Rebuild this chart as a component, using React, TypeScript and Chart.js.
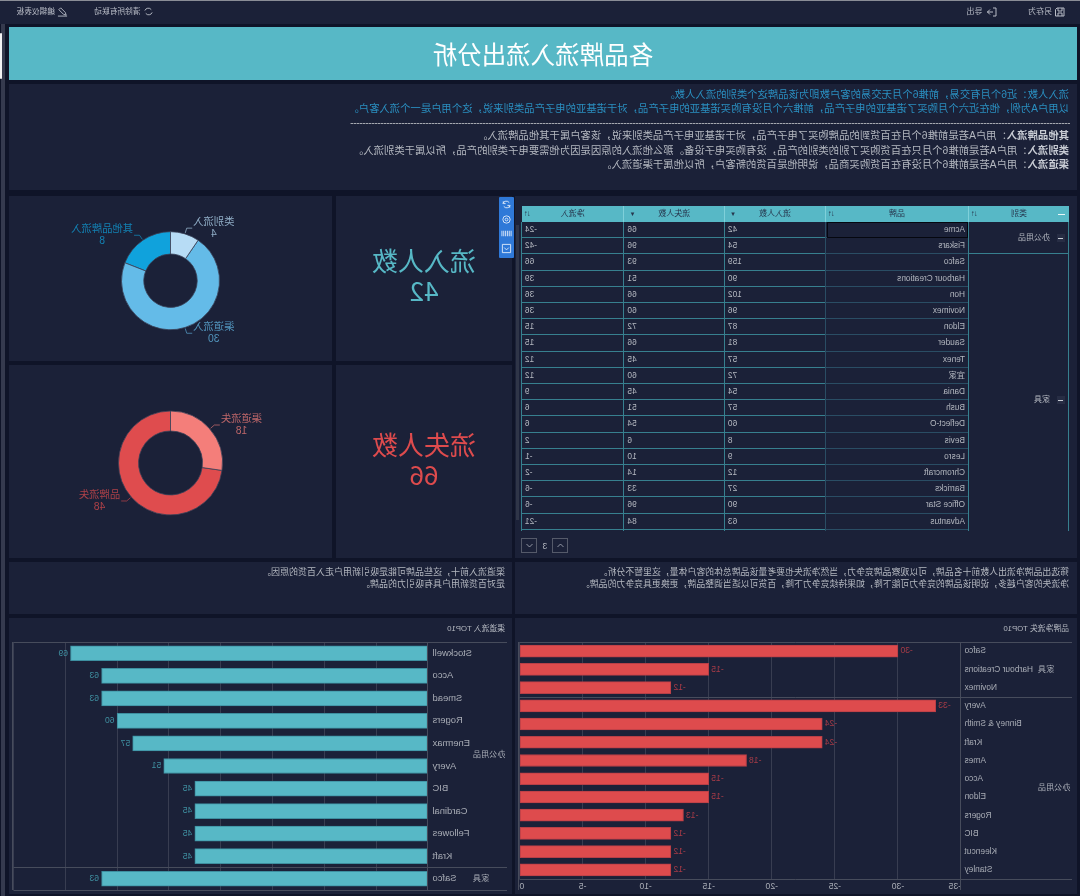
import React, { useEffect, useRef } from "react";
import { Chart, registerables } from "chart.js";

Chart.register(...registerables);

const FONT = '"Liberation Sans","Noto Sans CJK SC",sans-serif';
const PANEL = "#1b2138";
const TEAL = "#57b8c6";
const RED = "#de4b4d";

const titleText = "各品牌流入流出分析";
const toolbarRight = ["另存为", "导出"];
const toolbarLeft = ["清除所有联动", "编辑仪表板"];
const introBlue = [
  "流入人数：近6个月有交易，前推6个月无交易的客户数即为该品牌这个类别的流入人数。",
  "以用户A为例，他在近六个月购买了诺基亚的电子产品，前推六个月没有购买诺基亚的电子产品，对于诺基亚的电子产品类别来说，这个用户是一个流入客户。",
];
const introBold = ["其他品牌流入", "类别流入", "渠道流入"];
const introRest = [
  "：用户A若是前推6个月在百货到的品牌购买了电子产品，对于诺基亚电子产品类别来说，该客户属于其他品牌流入。",
  "：用户A若是前推6个月只在百货购买了别的类别的产品，没有购买电子设备。那么他流入的原因是因为他需要电子类别的产品，所以属于类别流入。",
  "：用户A若是前推6个月没有在百货购买商品，说明他是百货的新客户，所以他属于渠道流入。",
];
const noteOutflow = [
  "筛选出品牌净流出人数前十名品牌，可以观察品牌竞争力，当然净流失也要考量该品牌总体的客户体量，这里暂不分析。",
  "净流失的客户越多，说明该品牌的竞争力可能下降，如果持续竞争力下降，百货可以适当调整品牌，更换更具竞争力的品牌。",
];
const noteInflow = ["渠道流入前十，这些品牌可能是吸引新用户走入百货的原因。", "是对百货新用户具有吸引力的品牌。"];

const inflowLabels = ["其他品牌流入", "渠道流入", "类别流入"];
const inflowValues = [8, 30, 4];
const inflowColors = ["#10a2dc", "#64bbe8", "#b7dcf5"];
const outflowLabels = ["品牌流失", "渠道流失"];
const outflowValues = [48, 18];
const outflowColors = ["#df4c4e", "#f47e7a"];

const inflowTotalLabel = "流入人数";
const inflowTotal = "42";
const outflowTotalLabel = "流失人数";
const outflowTotal = "66";

const tableHeaders = ["类别", "品牌", "流入人数", "流失人数", "净流入"];
const tableBrands = ["Acme", "Fiskars", "Safco", "Harbour Creations", "Hon", "Novimex", "Eldon", "Sauder", "Tenex", "宜家", "Dania", "Bush", "Deflect-O", "Bevis", "Lesro", "Chromcraft", "Barricks", "Office Star", "Advantus"];
const tableInflow = [42, 54, 159, 90, 102, 96, 87, 81, 57, 72, 54, 57, 60, 8, 9, 12, 27, 90, 63];
const tableOutflow = [66, 96, 93, 51, 66, 60, 72, 66, 45, 60, 45, 51, 54, 6, 10, 14, 33, 96, 84];
const tableNet = [-24, -42, 66, 39, 36, 36, 15, 15, 12, 12, 9, 6, 6, 2, -1, -2, -6, -6, -21];
const tableGroups = ["办公用品", "家具"];
const tableGroupRows = [2, 18];
const pageNumber = "3";

const netLossTitle = "品牌净流失 TOP10";
const netLossBrands = ["Safco", "Harbour Creations", "Novimex", "Avery", "Binney & Smith", "Kraft", "Ames", "Acco", "Eldon", "Rogers", "BIC", "Kleencut", "Stanley"];
const netLossValues = [-30, -15, -12, -33, -24, -24, -18, -15, -15, -13, -12, -12, -12];
const netLossGroups = ["家具", "办公用品"];
const netLossGroupSizes = [3, 10];

const channelTitle = "渠道流入 TOP10";
const channelBrands = ["Stockwell", "Acco", "Smead", "Rogers", "Enermax", "Avery", "BIC", "Cardinal", "Fellowes", "Kraft", "Safco"];
const channelValues = [69, 63, 63, 60, 57, 51, 45, 45, 45, 45, 63];
const channelGroups = ["办公用品", "家具"];
const channelGroupSizes = [10, 1];

// All boxes are given in the coordinates seen in the picture; the whole page is flipped horizontally.
const box = (x0: number, y0: number, x1: number, y1: number): React.CSSProperties => ({
  position: "absolute",
  left: 1080 - x1,
  top: y0,
  width: x1 - x0,
  height: y1 - y0,
});

const donutLabelPlugin = {
  id: "donutLabels",
  afterDatasetsDraw(chart: any) {
    const { ctx } = chart;
    const meta = chart.getDatasetMeta(0);
    meta.data.forEach((arc: any, i: number) => {
      const { startAngle, endAngle, outerRadius, x, y } = arc.getProps(["startAngle", "endAngle", "outerRadius", "x", "y"], true);
      const a = (startAngle + endAngle) / 2;
      const side = Math.cos(a) >= 0 ? 1 : -1;
      const color = chart.data.datasets[0].backgroundColor[i];
      const p0 = [x + Math.cos(a) * (outerRadius + 1), y + Math.sin(a) * (outerRadius + 1)];
      const p1 = [x + Math.cos(a) * (outerRadius + 6), y + Math.sin(a) * (outerRadius + 6)];
      const p2x = p1[0] + side * 5.5;
      ctx.save();
      ctx.globalAlpha = 0.75;
      ctx.strokeStyle = color;
      ctx.lineWidth = 0.8;
      ctx.beginPath();
      ctx.moveTo(p0[0], p0[1]);
      ctx.lineTo(p1[0], p1[1]);
      ctx.lineTo(p2x, p1[1]);
      ctx.stroke();
      ctx.fillStyle = color;
      ctx.font = `10.3px ${FONT}`;
      ctx.textBaseline = "middle";
      const label = String(chart.data.labels[i]);
      const value = String(chart.data.datasets[0].data[i]);
      const w = ctx.measureText(label).width;
      const cx = side > 0 ? p2x + 1 + w / 2 : p2x - 1 - w / 2;
      ctx.textAlign = "center";
      ctx.fillText(label, cx, p1[1] - 6);
      ctx.fillText(value, cx, p1[1] + 6);
      ctx.restore();
    });
  },
};

function Donut({ rect, labels, values, colors, radius, cutout, padTop }: any) {
  const ref = useRef<HTMLCanvasElement>(null);
  useEffect(() => {
    const chart = new Chart(ref.current as HTMLCanvasElement, {
      type: "doughnut",
      data: { labels, datasets: [{ data: values, backgroundColor: colors, borderColor: "#3a4158", borderWidth: 0.8 }] },
      options: {
        responsive: false,
        animation: false,
        devicePixelRatio: 1,
        radius,
        cutout,
        layout: { padding: { top: padTop } },
        plugins: { legend: { display: false }, tooltip: { enabled: false } },
      } as any,
      plugins: [donutLabelPlugin],
    });
    return () => chart.destroy();
  }, []);
  const s = box(rect[0], rect[1], rect[2], rect[3]);
  return <canvas ref={ref} width={rect[2] - rect[0]} height={rect[3] - rect[1]} style={{ ...s, display: "block" }} />;
}

const barFramePlugin = {
  id: "barFrame",
  afterDatasetsDraw(chart: any, _args: any, opts: any) {
    const { ctx, chartArea } = chart;
    const sy = chart.scales.y;
    const { groups, sizes, labelColor, valueColor, edge, tail } = opts;
    ctx.save();
    ctx.strokeStyle = "#474c5c";
    ctx.lineWidth = 1;
    const hline = (y: number) => {
      ctx.beginPath();
      ctx.moveTo(edge, Math.round(y) + 0.5);
      ctx.lineTo(chartArea.right, Math.round(y) + 0.5);
      ctx.stroke();
    };
    const vline = (x: number) => {
      ctx.beginPath();
      ctx.moveTo(Math.round(x) + 0.5, chartArea.top);
      ctx.lineTo(Math.round(x) + 0.5, chartArea.bottom + tail);
      ctx.stroke();
    };
    hline(chartArea.top);
    hline(chartArea.bottom);
    vline(chartArea.left);
    vline(chartArea.right);
    let start = 0;
    ctx.fillStyle = labelColor;
    ctx.font = `8.1px ${FONT}`;
    ctx.textBaseline = "middle";
    ctx.textAlign = "right";
    groups.forEach((g: string, i: number) => {
      const end = start + sizes[i] - 1;
      ctx.fillText(g, 39, (sy.getPixelForValue(start) + sy.getPixelForValue(end)) / 2);
      if (i < groups.length - 1) hline((sy.getPixelForValue(end) + sy.getPixelForValue(end + 1)) / 2);
      start = end + 1;
    });
    ctx.fillStyle = valueColor;
    ctx.font = `8.6px ${FONT}`;
    const meta = chart.getDatasetMeta(0);
    meta.data.forEach((bar: any, i: number) => {
      const v = chart.data.datasets[0].data[i];
      ctx.textAlign = v < 0 ? "right" : "left";
      ctx.fillText(String(v), bar.x + (v < 0 ? -2.5 : 2.5), bar.y);
    });
    ctx.restore();
  },
};

function Bars({ rect, labels, values, color, border, min, max, step, thickness, yWidth, pad, xHeight, showX, groups, sizes, valueColor, tail, labelSize, labelPad }: any) {
  const ref = useRef<HTMLCanvasElement>(null);
  useEffect(() => {
    const chart = new Chart(ref.current as HTMLCanvasElement, {
      type: "bar",
      data: {
        labels,
        datasets: [{ data: values, backgroundColor: color, borderColor: border, borderWidth: 1, borderSkipped: false, barThickness: thickness }],
      },
      options: {
        indexAxis: "y",
        responsive: false,
        animation: false,
        devicePixelRatio: 1,
        layout: { padding: pad },
        scales: {
          x: {
            min,
            max,
            border: { display: false },
            grid: { color: "rgba(255,255,255,0.13)", drawTicks: false },
            afterFit: (s: any) => { s.height = xHeight; s.paddingLeft = 0; s.paddingRight = 0; },
            ticks: { display: showX, stepSize: step, align: "inner", maxRotation: 0, padding: 2, color: "#a9adb6", font: { family: FONT, size: 8.6 } },
          },
          y: {
            border: { display: false },
            grid: { display: false, drawTicks: false },
            afterFit: (s: any) => { s.width = yWidth; s.paddingTop = 0; s.paddingBottom = 0; },
            ticks: { autoSkip: false, padding: labelPad, color: "#a9adb6", font: { family: FONT, size: labelSize } },
          },
        },
        plugins: {
          legend: { display: false },
          tooltip: { enabled: false },
          barFrame: { groups, sizes, labelColor: "#a9adb6", valueColor, edge: 5, tail },
        },
      } as any,
      plugins: [barFramePlugin],
    });
    return () => chart.destroy();
  }, []);
  return <canvas ref={ref} width={rect[2] - rect[0]} height={rect[3] - rect[1]} style={{ ...box(rect[0], rect[1], rect[2], rect[3]), display: "block" }} />;
}

const Panel = ({ r }: { r: number[] }) => <div style={{ ...box(r[0], r[1], r[2], r[3]), background: PANEL }} />;

const Text = ({ r, children, style }: any) => (
  <div style={{ ...box(r[0], r[1], r[2], r[3]), whiteSpace: "nowrap", fontFamily: FONT, ...style }}>{children}</div>
);

const Icon = ({ r, d, stroke = "#b8bcc6", sw = 1 }: any) => (
  <svg viewBox="0 0 12 12" style={{ ...box(r[0], r[1], r[2], r[3]) }}>
    <path d={d} fill="none" stroke={stroke} strokeWidth={sw} />
  </svg>
);

// Table geometry in picture x: column edges run from the right of the picture to the left.
const colEdges = [1069, 969, 826, 725, 624.5, 522];
const ROW_TOP = 222;
const ROW_H = 16.2;
const LINE = "#37808f";

function DataTable() {
  const rows = tableBrands.map((b, i) => ({ b, vals: [tableInflow[i], tableOutflow[i], tableNet[i]] }));
  const bottom = 531;
  const rowTop = (i: number) => ROW_TOP + i * ROW_H;
  const cells: React.ReactNode[] = [];
  tableHeaders.forEach((h, c) => {
    const x1 = colEdges[c];
    const x0 = colEdges[c + 1];
    cells.push(
      <div key={"h" + c} style={{ ...box(x0, 206, x1, ROW_TOP), background: TEAL, borderLeft: c ? "1px solid #7fd0da" : "none", boxSizing: "border-box", color: "#27364d", font: `8px ${FONT}`, lineHeight: "16px", textAlign: "center" }}>
        {c === 0 && <span style={{ position: "absolute", left: 4, top: 7.5, width: 7, height: 1, background: "#e8f6f8" }} />}
        {h}
        {c >= 2 && c <= 3
          ? <span style={{ position: "absolute", right: 5, top: 0, fontSize: 6, color: "#27364d" }}>▼</span>
          : <span style={{ position: "absolute", right: 3, top: 0, fontSize: 8, letterSpacing: -1, color: "#27364d" }}>↓↑</span>}
      </div>
    );
  });
  rows.forEach((row, i) => {
    const t = rowTop(i);
    cells.push(
      <div key={"b" + i} style={{ ...box(colEdges[2], t, colEdges[1], t + ROW_H), boxSizing: "border-box", borderBottom: "1px solid #2a4d64", paddingLeft: 4, font: `8.3px ${FONT}`, lineHeight: "15.5px", color: "#b4b8c0" }}>{row.b}</div>
    );
    row.vals.forEach((v, c) => {
      cells.push(
        <div key={`v${i}-${c}`} style={{ ...box(colEdges[c + 3], t, colEdges[c + 2], t + ROW_H), boxSizing: "border-box", borderBottom: `1px solid ${LINE}`, paddingRight: 3, textAlign: "right", font: `8.3px ${FONT}`, lineHeight: "15.5px", color: "#b4b8c0" }}>{v}</div>
      );
    });
  });
  let start = 0;
  tableGroups.forEach((g, gi) => {
    const t = rowTop(start);
    const b = rowTop(start + tableGroupRows[gi]);
    const mid = (t + b) / 2;
    cells.push(
      <div key={"g" + gi} style={{ ...box(colEdges[1], t, colEdges[0], Math.min(b, bottom)), boxSizing: "border-box", borderBottom: b < bottom ? `1px solid ${LINE}` : "none" }} />
    );
    cells.push(<div key={"gm" + gi} style={{ ...box(1057, mid - 4, 1065, mid + 4), background: "#272d44" }}><span style={{ position: "absolute", left: 1.5, top: 3.5, width: 5, height: 1, background: "#c8ccd4" }} /></div>);
    cells.push(<Text key={"gt" + gi} r={[900, mid - 8, 1050, mid + 8]} style={{ font: `8px ${FONT}`, lineHeight: "16px", color: "#b4b8c0" }}>{g}</Text>);
    start += tableGroupRows[gi];
  });
  colEdges.forEach((x, i) => {
    cells.push(<div key={"vl" + i} style={{ ...box(x - 1, ROW_TOP, x, bottom), background: i === 2 ? "#2a4d64" : LINE }} />);
  });
  cells.push(<div key="sel" style={{ ...box(827, ROW_TOP, 968, ROW_TOP + ROW_H), boxSizing: "border-box", border: "1px solid #05070f" }} />);
  return <>{cells}</>;
}

const toolIcons = [
  "M3 4a4 4 0 0 1 7 1M9 8a4 4 0 0 1-7-1M9.5 2.5v2.5H7M2.5 9.5V7H5",
  "M2 6a4 4 0 1 0 8 0a4 4 0 1 0-8 0M4.5 6a1.5 1.5 0 1 0 3 0a1.5 1.5 0 1 0-3 0",
  "M1 3v6M3 3v6M5 3v6M7 3v6M9 3v6M11 3v6",
  "M1.5 1.5h9v9h-9zM3.5 5l2.5 2.5L8.5 5",
];

const barText = { lineHeight: "14px", color: "#b8bcc6" };

export default function App() {
  return (
    <div style={{ position: "fixed", left: 0, top: 0, width: 1080, height: 896, overflow: "hidden", background: "#0f1428", transform: "scaleX(-1)", fontFamily: FONT }}>
      <div style={{ ...box(0, 0, 1080, 1), background: "#8a8d96" }} />
      <Panel r={[0, 1, 1080, 24]} />
      <Text r={[1000, 5, 1052, 19]} style={{ font: `8px ${FONT}`, ...barText }}>{toolbarRight[0]}</Text>
      <Icon r={[1054, 6, 1066, 18]} d="M2 2h7l1.5 1.5V10H2zM4 2v3h4V2M4 10V7h4v3" />
      <Text r={[950, 5, 982.5, 19]} style={{ font: `8px ${FONT}`, ...barText }}>{toolbarRight[1]}</Text>
      <Icon r={[986, 6, 998, 18]} d="M5 2H2v8h3M5 6h6M8 3.5L10.5 6 8 8.5" />
      <Text r={[90, 5, 140.5, 19]} style={{ font: `7.7px ${FONT}`, ...barText }}>{toolbarLeft[0]}</Text>
      <Icon r={[143, 6, 154, 17]} d="M3 4a4 4 0 0 1 7 1M9 8a4 4 0 0 1-7-1" />
      <Text r={[15, 5, 55, 19]} style={{ font: `7.7px ${FONT}`, ...barText }}>{toolbarLeft[1]}</Text>
      <Icon r={[57, 6, 68, 17]} d="M2 10l1-3 5-5 2 2-5 5zM1 11h10" />

      <div style={{ ...box(1, 24, 5, 896), background: "#353a4e" }} />
      <div style={{ ...box(0, 33, 2.5, 79), background: "#f2f2f4", borderRadius: 2 }} />

      <div style={{ ...box(9, 27, 1077, 80), background: TEAL, color: "#fff", font: `24.5px "Noto Sans CJK SC",sans-serif`, lineHeight: "53px", textAlign: "center" }}>{titleText}</div>

      <Panel r={[9, 84, 1077, 190]} />
      {introBlue.map((t, i) => (
        <Text key={t} r={[300, 88 + i * 13.7, 1069, 102 + i * 13.7]} style={{ font: `10.35px ${FONT}`, lineHeight: "14px", color: "#2a8fc0" }}>{t}</Text>
      ))}
      <div style={{ ...box(350, 123, 1070, 124), background: "repeating-linear-gradient(90deg,#a4a8b0 0 2px,#5a5e6c 2px 3px)" }} />
      {introBold.map((b, i) => (
        <Text key={b} r={[300, 129 + i * 14.5, 1069, 143 + i * 14.5]} style={{ font: `10.35px ${FONT}`, lineHeight: "14px", color: "#b4b8c0" }}>
          <b style={{ color: "#c8ccd4" }}>{b}</b>{introRest[i]}
        </Text>
      ))}

      <Panel r={[9, 196, 332, 361]} />
      <Panel r={[9, 365, 332, 558]} />
      <Panel r={[336, 196, 512, 361]} />
      <Panel r={[336, 365, 512, 558]} />
      <Panel r={[515, 196, 1077, 558]} />
      <Panel r={[9, 562, 512, 614]} />
      <Panel r={[515, 562, 1077, 614]} />
      <Panel r={[9, 618, 512, 894]} />
      <Panel r={[515, 618, 1077, 894]} />

      <Donut rect={[9, 196, 332, 361]} labels={inflowLabels} values={inflowValues} colors={inflowColors} radius={49} cutout="54.5%" padTop={4.4} />
      <Donut rect={[9, 365, 332, 558]} labels={outflowLabels} values={outflowValues} colors={outflowColors} radius={52} cutout="61.5%" padTop={3} />

      <div style={{ ...box(336, 245, 512, 312), textAlign: "center", color: TEAL, font: `26px/30px "Noto Sans CJK SC",sans-serif` }}>{inflowTotalLabel}<br />{inflowTotal}</div>
      <div style={{ ...box(336, 429, 512, 496), textAlign: "center", color: RED, font: `26px/30px "Noto Sans CJK SC",sans-serif` }}>{outflowTotalLabel}<br />{outflowTotal}</div>

      <div style={{ ...box(499, 197, 514, 258), background: "#2f79d8", borderRadius: 1 }} />
      {toolIcons.map((d, i) => (
        <Icon key={i} r={[501, 199 + i * 14.6, 512, 210 + i * 14.6]} d={d} stroke="#dfeafa" />
      ))}

      <div style={{ ...box(516.5, 225, 519.5, 520), background: "#2f3548" }} />

      <DataTable />

      <div style={{ ...box(552, 538, 568, 553), border: "1px solid #555a6a", boxSizing: "border-box" }} />
      <Icon r={[556, 541, 565, 550]} d="M2 8l4-4 4 4" />
      <div style={{ ...box(521, 538, 537, 553), border: "1px solid #555a6a", boxSizing: "border-box" }} />
      <Icon r={[525, 541, 534, 550]} d="M2 4l4 4 4-4" />
      <Text r={[540, 539, 550, 553]} style={{ font: `8.5px ${FONT}`, lineHeight: "14px", color: "#b4b8c0", textAlign: "center" }}>{pageNumber}</Text>

      {noteOutflow.map((t, i) => (
        <Text key={t} r={[520, 565.5 + i * 12.3, 1069, 578.5 + i * 12.3]} style={{ font: `8.9px ${FONT}`, lineHeight: "13px", color: "#b4b8c0" }}>{t}</Text>
      ))}
      {noteInflow.map((t, i) => (
        <Text key={t} r={[20, 565.5 + i * 12.3, 505, 578.5 + i * 12.3]} style={{ font: `9px ${FONT}`, lineHeight: "13px", color: "#b4b8c0" }}>{t}</Text>
      ))}

      <Text r={[800, 622, 1069, 636]} style={{ font: `7.8px ${FONT}`, lineHeight: "14px", color: "#b4b8c0" }}>{netLossTitle}</Text>
      <Text r={[300, 622, 505, 636]} style={{ font: `7.8px ${FONT}`, lineHeight: "14px", color: "#b4b8c0" }}>{channelTitle}</Text>

      <Bars rect={[515, 618, 1077, 894]} labels={netLossBrands} values={netLossValues} color={RED} border="#b73f47" min={-35} max={0} step={5} thickness={12}
        yWidth={116} pad={{ top: 24, right: 4.5, bottom: 0, left: 0 }} xHeight={15} showX groups={netLossGroups} sizes={netLossGroupSizes} valueColor="#a53b47" tail={11} labelSize={8.4} labelPad={3.5} />
      <Bars rect={[9, 618, 512, 894]} labels={channelBrands} values={channelValues} color={TEAL} border="#3d8fa0" min={0} max={80} step={10} thickness={15}
        yWidth={84} pad={{ top: 24, right: 4.5, bottom: 4, left: 0 }} xHeight={0} showX={false} groups={channelGroups} sizes={channelGroupSizes} valueColor="#3f8fa0" tail={0} labelSize={9.4} labelPad={4.5} />
    </div>
  );
}
